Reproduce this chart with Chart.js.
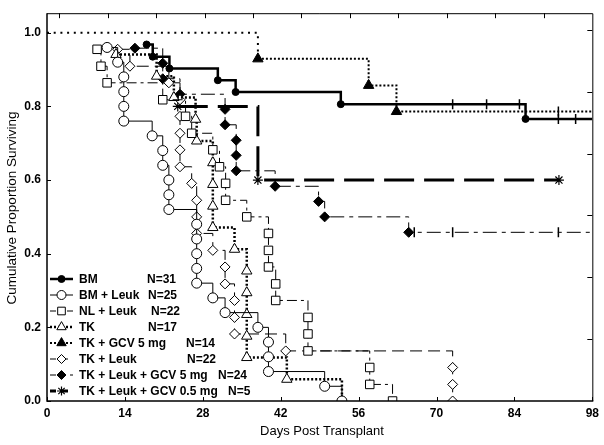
<!DOCTYPE html>
<html><head><meta charset="utf-8">
<script src="https://cdn.jsdelivr.net/npm/chart.js@4.4.1/dist/chart.umd.min.js"></script>
<style>html,body{margin:0;padding:0;background:#fff;}#wrap{width:604px;height:445px;position:relative;}canvas{display:block;}</style>
</head><body><div id="wrap"><canvas id="c" width="604" height="445" style="width:604px;height:445px"></canvas></div>
<script>
// ---- axis ticks ----
const xTicks = [0, 14, 28, 42, 56, 70, 84, 98];
const yTicks = [0.0, 0.2, 0.4, 0.6, 0.8, 1.0];

// ---- legend text ----
const seriesNames = ['BM', 'BM + Leuk', 'NL + Leuk', 'TK', 'TK + GCV 5 mg', 'TK + Leuk', 'TK + Leuk + GCV 5 mg', 'TK + Leuk + GCV 0.5 mg'];
const seriesN = ['N=31', 'N=25', 'N=22', 'N=17', 'N=14', 'N=22', 'N=24', 'N=5'];

// ---- series data (days of events, survival after event, censor days) ----
const bmDays = [17.9, 19.0, 22.0, 30.7, 33.9, 52.8, 86.0];
const bmSurv = [0.968, 0.935, 0.903, 0.871, 0.839, 0.806, 0.766];
const bmCensor = [72.9, 79.0, 84.9, 91.9, 95.0];

const bmLeukDays = [10.8, 12.7, 13.8, 13.8, 13.8, 13.8, 18.9, 20.8, 20.8, 21.9, 21.9, 21.9, 26.9, 26.9, 26.9, 26.9, 26.9, 29.8, 32.0, 37.9, 39.8, 39.8, 39.8, 49.9, 53.0];
const bmLeukSurv = [0.96, 0.92, 0.88, 0.84, 0.80, 0.76, 0.72, 0.68, 0.64, 0.60, 0.56, 0.52, 0.48, 0.44, 0.40, 0.36, 0.32, 0.28, 0.24, 0.20, 0.16, 0.12, 0.08, 0.04, 0.0];
const bmLeukCensor = [];

const nlLeukDays = [9.0, 9.7, 10.8, 20.8, 24.9, 26.0, 29.8, 31.0, 32.1, 32.1, 35.9, 39.8, 39.8, 39.8, 41.1, 41.1, 46.9, 46.9, 46.9, 58.0, 58.0, 62.1];
const nlLeukSurv = [0.955, 0.909, 0.864, 0.818, 0.773, 0.727, 0.682, 0.636, 0.591, 0.545, 0.5, 0.455, 0.409, 0.364, 0.318, 0.273, 0.227, 0.182, 0.136, 0.091, 0.045, 0.0];
const nlLeukCensor = [];

const tkDays = [12.4, 19.7, 22.8, 26.7, 26.9, 29.8, 29.8, 29.8, 29.8, 33.7, 35.9, 35.9, 35.9, 35.9, 35.9, 43.1, 53.0];
const tkSurv = [0.941, 0.882, 0.824, 0.765, 0.706, 0.647, 0.588, 0.529, 0.471, 0.412, 0.353, 0.294, 0.235, 0.176, 0.118, 0.059, 0.0];
const tkCensor = [];

const tkGcvDays = [37.9, 57.8, 62.8];
const tkGcvSurv = [0.929, 0.857, 0.786];
const tkGcvCensor = [91.9];

const tkLeukDays = [12.7, 14.9, 21.9, 23.9, 23.9, 23.9, 23.9, 23.9, 26.0, 26.9, 26.9, 26.9, 29.8, 32.0, 32.0, 33.7, 33.7, 33.7, 42.9, 72.9, 72.9, 72.9];
const tkLeukSurv = [0.955, 0.909, 0.864, 0.818, 0.773, 0.727, 0.682, 0.636, 0.591, 0.545, 0.5, 0.455, 0.409, 0.364, 0.318, 0.273, 0.227, 0.182, 0.136, 0.091, 0.045, 0.0];
const tkLeukCensor = [];

const tkLeukGcv5Days = [15.8, 20.8, 20.8, 23.9, 32.0, 32.0, 34.0, 34.0, 34.0, 41.0, 48.8, 49.9, 65.0];
const tkLeukGcv5Surv = [0.958, 0.917, 0.875, 0.833, 0.792, 0.75, 0.708, 0.667, 0.625, 0.583, 0.542, 0.5, 0.458];
const tkLeukGcv5Censor = [66.0, 72.9, 91.9];

const tkLeukGcv05Days = [23.5, 37.9];
const tkLeukGcv05Surv = [0.8, 0.6];
const tkLeukGcv05Censor = [92.0];

// ---- styles ----
const styles = [
  {bw: 2.5, dash: [], marker: 'circle', r: 3.5, fill: '#000', pbw: 1},
  {bw: 1, dash: [], marker: 'circle', r: 5, fill: '#fff', pbw: 1},
  {bw: 1, dash: [10, 4, 3, 4], marker: 'rect', r: 6, fill: '#fff', pbw: 1},
  {bw: 2.5, dash: [2, 2], marker: 'triangle', r: 6, fill: '#fff', pbw: 1},
  {bw: 2, dash: [2, 2], marker: 'triangle', r: 6, fill: '#000', pbw: 1, firstDash: [2, 4.7]},
  {bw: 1, dash: [12, 6], marker: 'rectRot', r: 5, fill: '#fff', pbw: 1},
  {bw: 1, dash: [14, 5, 4, 5], marker: 'rectRot', r: 5, fill: '#000', pbw: 1},
  {bw: 3, dash: [30, 10], marker: 'star', r: 5, fill: '#000', pbw: 1.2, censorMarker: 'star'}
];

function kmPoints(startAtOne, days, surv, censor, endDay) {
  const pts = [];
  if (startAtOne) pts.push({x: 0, y: 1, kind: 'none'});
  const all = days.map((d, i) => ({x: d, y: surv[i], kind: 'event'}));
  censor.forEach(d => {
    let y = startAtOne ? 1 : surv[0];
    for (let i = 0; i < days.length; i++) if (days[i] <= d) y = surv[i];
    all.push({x: d, y: y, kind: 'censor'});
  });
  all.sort((a, b) => (a.x - b.x) || (b.y - a.y));
  pts.push(...all);
  const last = pts[pts.length - 1];
  if (endDay != null && endDay > last.x) pts.push({x: endDay, y: last.y, kind: 'none'});
  return pts;
}

const seriesPts = [
  kmPoints(false, bmDays, bmSurv, bmCensor, 98),
  kmPoints(false, bmLeukDays, bmLeukSurv, bmLeukCensor, null),
  kmPoints(false, nlLeukDays, nlLeukSurv, nlLeukCensor, null),
  kmPoints(false, tkDays, tkSurv, tkCensor, null),
  kmPoints(true, tkGcvDays, tkGcvSurv, tkGcvCensor, 98),
  kmPoints(false, tkLeukDays, tkLeukSurv, tkLeukCensor, null),
  kmPoints(false, tkLeukGcv5Days, tkLeukGcv5Surv, tkLeukGcv5Censor, 98),
  kmPoints(false, tkLeukGcv05Days, tkLeukGcv05Surv, tkLeukGcv05Censor, null)
];

function makeDs(i) {
  const pts = seriesPts[i], st = styles[i];
  const isTick = p => p.kind === 'censor' && !st.censorMarker;
  const ds = {
    label: seriesNames[i],
    data: pts.map(p => ({x: p.x, y: p.y})),
    stepped: true,
    borderColor: '#000',
    borderWidth: st.bw,
    borderDash: st.dash,
    borderCapStyle: 'butt',
    fill: false,
    tension: 0,
    pointStyle: pts.map(p => p.kind === 'none' ? false : (isTick(p) ? 'line' : (p.kind === 'censor' ? st.censorMarker : st.marker))),
    pointRadius: pts.map(p => p.kind === 'none' ? 0 : (isTick(p) ? 5 : st.r)),
    pointRotation: pts.map(p => isTick(p) ? 90 : 0),
    pointBackgroundColor: st.fill,
    pointBorderColor: '#000',
    pointBorderWidth: pts.map(p => isTick(p) ? 1.5 : st.pbw),
    pointHoverRadius: 0
  };
  if (st.firstDash) ds.segment = { borderDash: c => c.p0DataIndex === 0 ? st.firstDash : undefined };
  return ds;
}

const FONT = "'Liberation Sans', Arial, sans-serif";

function drawMarker(ctx, style, x, y, r, fill, lw) {
  ctx.save();
  ctx.beginPath();
  ctx.setLineDash([]);
  ctx.lineWidth = lw; ctx.strokeStyle = '#000'; ctx.fillStyle = fill;
  if (style === 'circle') { ctx.arc(x, y, r, 0, Math.PI * 2); }
  else if (style === 'rect') { const s = Math.SQRT1_2 * r; ctx.rect(x - s, y - s, 2 * s, 2 * s); }
  else if (style === 'triangle') {
    let a = 0;
    ctx.moveTo(x + Math.sin(a) * r, y - Math.cos(a) * r); a += 2 * Math.PI / 3;
    ctx.lineTo(x + Math.sin(a) * r, y - Math.cos(a) * r); a += 2 * Math.PI / 3;
    ctx.lineTo(x + Math.sin(a) * r, y - Math.cos(a) * r); ctx.closePath();
  }
  else if (style === 'rectRot') { ctx.moveTo(x - r, y); ctx.lineTo(x, y - r); ctx.lineTo(x + r, y); ctx.lineTo(x, y + r); ctx.closePath(); }
  else if (style === 'star') {
    for (let k = 0; k < 4; k++) { const a = k * Math.PI / 4; ctx.moveTo(x - Math.cos(a) * r, y - Math.sin(a) * r); ctx.lineTo(x + Math.cos(a) * r, y + Math.sin(a) * r); }
    ctx.stroke(); ctx.restore(); return;
  }
  ctx.fill(); ctx.stroke();
  ctx.restore();
}

const legendNX = [147, 148, 151, 148, 186, 187, 218, 228];

const decorPlugin = {
  id: 'decor',
  afterDraw(chart) {
    const ctx = chart.ctx, a = chart.chartArea;
    ctx.save();
    // frame
    ctx.strokeStyle = '#000';
    ctx.setLineDash([]);
    ctx.lineWidth = 1;
    ctx.beginPath();
    ctx.moveTo(a.left, a.top + 0.5); ctx.lineTo(a.right + 0.5, a.top + 0.5); ctx.lineTo(a.right + 0.5, a.bottom);
    ctx.stroke();
    ctx.lineWidth = 1.5;
    ctx.beginPath();
    ctx.moveTo(a.left, a.top); ctx.lineTo(a.left, a.bottom); ctx.lineTo(a.right + 1, a.bottom);
    ctx.stroke();
    // ticks
    ctx.lineWidth = 1;
    ctx.beginPath();
    const xs = chart.scales.x, ys = chart.scales.y;
    xTicks.forEach(v => { const px = Math.round(xs.getPixelForValue(v)) + 0.5; ctx.moveTo(px, a.bottom); ctx.lineTo(px, a.bottom - 4); });
    yTicks.forEach(v => { const py = Math.round(ys.getPixelForValue(v)) + 0.5; ctx.moveTo(a.left, py); ctx.lineTo(a.left + 4, py); });
    const tStep = a.width / 11.25;
    for (let k = 1; k <= 11; k++) { const px = Math.round(a.right - k * tStep) + 0.5; ctx.moveTo(px, a.top); ctx.lineTo(px, a.top + 5); }
    const rStep = a.height / 6.27;
    for (let k = 1; k <= 6; k++) { const py = Math.round(a.bottom - k * rStep) + 0.5; ctx.moveTo(a.right, py); ctx.lineTo(a.right - 5, py); }
    ctx.stroke();

    // axis titles
    ctx.fillStyle = '#000';
    ctx.font = '13px ' + FONT;
    ctx.textAlign = 'center'; ctx.textBaseline = 'middle';
    ctx.fillText('Days Post Transplant', 322, 431);
    ctx.save();
    ctx.font = '13.5px ' + FONT;
    ctx.translate(12, 208); ctx.rotate(-Math.PI / 2);
    ctx.fillText('Cumulative Proportion Surviving', 0, 0);
    ctx.restore();

    // legend
    ctx.font = 'bold 12px ' + FONT;
    ctx.textAlign = 'left'; ctx.textBaseline = 'middle';
    for (let i = 0; i < seriesNames.length; i++) {
      const y = 279 + i * 16, st = styles[i];
      ctx.save();
      ctx.lineWidth = st.bw; ctx.setLineDash(st.dash.map(d => Math.min(d, 6)));
      ctx.beginPath(); ctx.moveTo(50, y); ctx.lineTo(73, y); ctx.stroke();
      ctx.restore();
      drawMarker(ctx, st.marker, 61.5, y, st.r * (i === 0 ? 1 : 0.9), st.fill, st.pbw);
      ctx.fillStyle = '#000';
      ctx.fillText(seriesNames[i], 79, y + 1);
      ctx.fillText(seriesN[i], legendNX[i], y + 1);
    }
    ctx.restore();
  }
};

new Chart(document.getElementById('c'), {
  type: 'line',
  data: { datasets: seriesPts.map((p, i) => makeDs(i)) },
  options: {
    responsive: false,
    animation: false,
    events: [],
    layout: { padding: { top: 5, right: 11, left: 0, bottom: 0 } },
    plugins: { legend: { display: false }, tooltip: { enabled: false } },
    scales: {
      x: {
        type: 'linear', min: 0, max: 98,
        afterBuildTicks: s => { s.ticks = xTicks.map(v => ({value: v})); },
        afterFit: s => { s.height = 44; },
        grid: { display: false, drawTicks: false },
        border: { display: false },
        ticks: { color: '#000', font: { family: FONT, size: 12, weight: 'bold' }, padding: 5, maxRotation: 0, autoSkip: false }
      },
      y: {
        type: 'linear', min: 0, max: 1.053,
        afterBuildTicks: s => { s.ticks = yTicks.map(v => ({value: v})); },
        afterFit: s => { s.width = 47; },
        grid: { display: false, drawTicks: false },
        border: { display: false },
        ticks: { color: '#000', font: { family: FONT, size: 12, weight: 'bold' }, padding: 6, callback: v => Number(v).toFixed(1) }
      }
    }
  },
  plugins: [decorPlugin]
});
</script>
</body></html>
